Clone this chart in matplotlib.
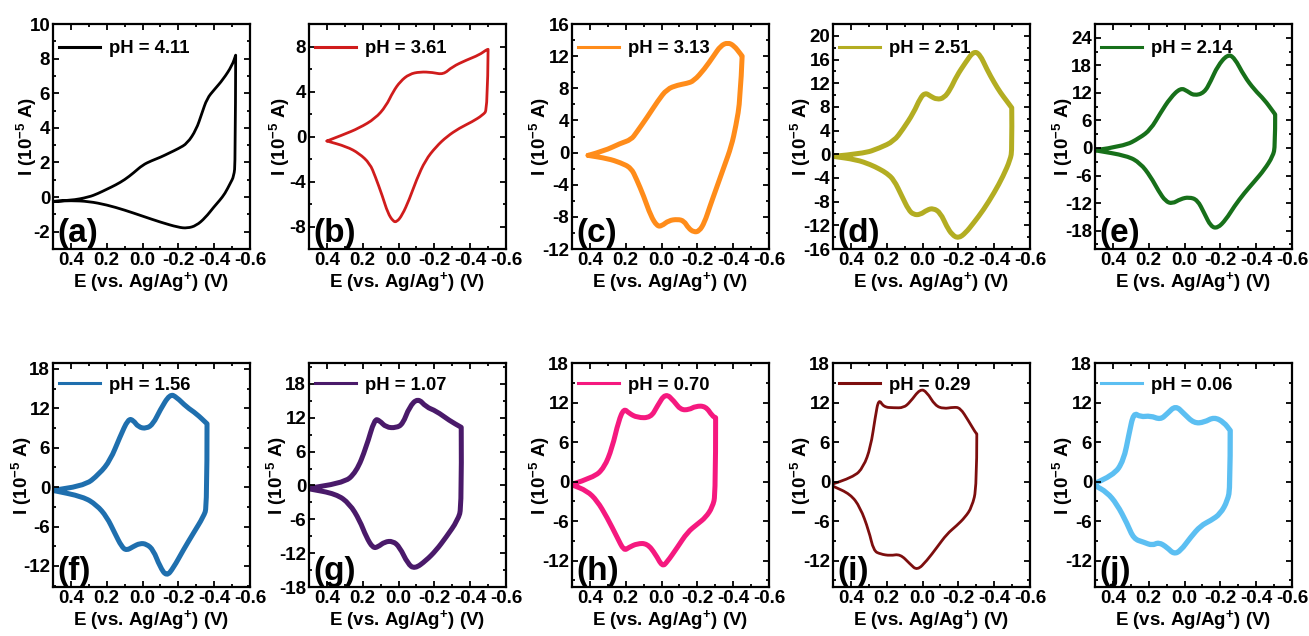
import matplotlib
matplotlib.use("Agg")
import matplotlib.pyplot as plt
from matplotlib.path import Path
from matplotlib.patches import PathPatch
from matplotlib.lines import Line2D
from matplotlib.ticker import AutoMinorLocator

plt.rcParams['font.family'] = ['Liberation Sans', 'DejaVu Sans']
plt.rcParams['font.weight'] = 'bold'
plt.rcParams['mathtext.fontset'] = 'custom'
plt.rcParams['mathtext.rm'] = 'Liberation Sans:bold'
plt.rcParams['mathtext.it'] = 'Liberation Sans:bold'
plt.rcParams['mathtext.bf'] = 'Liberation Sans:bold'
plt.rcParams['mathtext.default'] = 'rm'
plt.rcParams['axes.unicode_minus'] = False

# ---------------- data ----------------
panel_letters = ['a', 'b', 'c', 'd', 'e', 'f', 'g', 'h', 'i', 'j']
ph_values = ['4.11', '3.61', '3.13', '2.51', '2.14', '1.56', '1.07', '0.70', '0.29', '0.06']
colors = ['#000000', '#d01c1c', '#ff8c1a', '#b3ad22', '#17701a',
          '#1f6fae', '#4a1a6a', '#f5197f', '#7d0e0e', '#5cbff2']
line_widths = [2.0, 2.0, 3.6, 3.6, 3.0, 3.6, 3.6, 3.6, 2.0, 3.8]

# upper (anodic) branch and lower (cathodic) branch of each CV, E in V, I in 1e-5 A
a_up_E = [0.5, 0.4, 0.3, 0.25, 0.2, 0.15, 0.1, 0.05, 0.0, -0.05, -0.1, -0.15, -0.2, -0.25, -0.3, -0.33, -0.36, -0.4, -0.45, -0.5, -0.52]
a_up_I = [-0.25, -0.2, 0.0, 0.2, 0.45, 0.7, 1.0, 1.4, 1.85, 2.1, 2.3, 2.55, 2.8, 3.1, 3.9, 4.8, 5.7, 6.2, 6.8, 7.6, 8.2]
a_lo_E = [-0.52, -0.518, -0.51, -0.49, -0.46, -0.43, -0.4, -0.35, -0.3, -0.25, -0.2, -0.1, 0.0, 0.1, 0.2, 0.3, 0.4, 0.5]
a_lo_I = [8.2, 2.0, 1.2, 0.8, 0.2, -0.2, -0.55, -1.2, -1.65, -1.8, -1.75, -1.45, -1.1, -0.75, -0.45, -0.25, -0.2, -0.25]

b_up_E = [0.40, 0.31, 0.22, 0.13, 0.07, 0.03, -0.01, -0.06, -0.12, -0.19, -0.25, -0.30, -0.38, -0.45, -0.49, -0.50]
b_up_I = [-0.4, 0.15, 0.75, 1.6, 2.7, 4.0, 4.9, 5.55, 5.75, 5.7, 5.5, 6.2, 6.8, 7.25, 7.7, 7.75]
b_lo_E = [-0.50, -0.497, -0.47, -0.41, -0.34, -0.27, -0.21, -0.15, -0.10, -0.06, -0.02, 0.01, 0.03, 0.06, 0.09, 0.13, 0.16, 0.22, 0.29, 0.40]
b_lo_I = [7.75, 2.4, 1.9, 1.3, 0.75, 0.0, -0.9, -2.1, -3.85, -5.6, -7.0, -7.6, -7.55, -6.8, -5.3, -3.55, -2.4, -1.5, -0.9, -0.4]

c_up_E = [0.41, 0.32, 0.23, 0.17, 0.14, 0.08, 0.02, -0.03, -0.09, -0.14, -0.18, -0.24, -0.29, -0.33, -0.37, -0.405, -0.44, -0.45]
c_up_I = [-0.35, 0.2, 1.15, 1.6, 2.5, 4.4, 6.45, 7.9, 8.4, 8.6, 8.9, 10.4, 12.0, 13.3, 13.7, 13.3, 12.3, 12.0]
c_lo_E = [-0.45, -0.44, -0.415, -0.39, -0.35, -0.31, -0.27, -0.24, -0.21, -0.18, -0.15, -0.125, -0.09, -0.04, 0.0, 0.025, 0.06, 0.10, 0.14, 0.17, 0.23, 0.30, 0.41]
c_lo_I = [12.0, 6.6, 3.3, 0.8, -1.7, -4.2, -6.7, -8.7, -9.8, -9.9, -9.4, -8.5, -8.3, -8.45, -9.15, -9.15, -7.9, -5.4, -3.3, -1.9, -1.25, -0.75, -0.35]

d_up_E = [0.5, 0.33, 0.24, 0.16, 0.11, 0.05, 0.013, -0.015, -0.045, -0.08, -0.12, -0.155, -0.19, -0.24, -0.285, -0.32, -0.36, -0.40, -0.435, -0.47, -0.498]
d_up_I = [-0.35, 0.1, 1.05, 2.2, 4.2, 7.0, 9.5, 10.4, 9.8, 9.25, 9.5, 10.95, 13.2, 15.5, 17.4, 16.9, 14.3, 12.1, 10.4, 9.0, 7.85]
d_lo_E = [-0.498, -0.5, -0.49, -0.45, -0.40, -0.34, -0.285, -0.24, -0.2, -0.165, -0.135, -0.10, -0.06, -0.025, 0.013, 0.05, 0.078, 0.115, 0.16, 0.2, 0.24, 0.29, 0.37, 0.5]
d_lo_I = [7.85, 0.8, -0.9, -3.7, -6.5, -9.4, -11.6, -13.3, -14.2, -13.6, -12.2, -9.9, -9.1, -9.4, -10.2, -10.2, -9.4, -7.1, -4.3, -3.2, -2.5, -1.75, -0.9, -0.35]

e_up_E = [0.5, 0.34, 0.25, 0.19, 0.135, 0.08, 0.022, -0.015, -0.053, -0.11, -0.147, -0.184, -0.24, -0.278, -0.334, -0.39, -0.446, -0.493, -0.506]
e_up_I = [-0.5, 0.35, 2.2, 4.0, 7.6, 10.9, 13.1, 12.4, 11.4, 12.0, 14.6, 17.8, 20.4, 19.7, 15.6, 12.7, 10.5, 8.0, 7.3]
e_lo_E = [-0.506, -0.506, -0.493, -0.446, -0.39, -0.334, -0.278, -0.231, -0.184, -0.147, -0.11, -0.072, -0.025, 0.022, 0.069, 0.106, 0.144, 0.19, 0.247, 0.32, 0.5]
e_lo_I = [7.3, 0.35, -1.8, -4.7, -7.3, -9.8, -12.7, -15.6, -17.5, -17.1, -14.2, -11.3, -10.7, -11.1, -12.15, -11.6, -9.45, -6.2, -3.3, -1.7, -0.5]

f_up_E = [0.5, 0.33, 0.24, 0.18, 0.127, 0.08, 0.052, 0.024, -0.022, -0.06, -0.097, -0.153, -0.19, -0.246, -0.3, -0.36]
f_up_I = [-0.45, 0.05, 2.05, 4.1, 7.6, 10.4, 10.2, 9.15, 8.9, 9.65, 11.7, 14.2, 13.7, 12.2, 11.2, 9.65]
f_lo_E = [-0.36, -0.36, -0.34, -0.284, -0.228, -0.172, -0.134, -0.097, -0.06, -0.022, 0.015, 0.052, 0.09, 0.117, 0.155, 0.2, 0.257, 0.332, 0.5]
f_lo_I = [9.65, -3.0, -4.5, -7.0, -9.55, -12.3, -13.6, -12.1, -9.55, -8.65, -8.55, -9.05, -9.65, -9.05, -7.0, -4.5, -2.7, -1.45, -0.5]

g_up_E = [0.5, 0.31, 0.236, 0.18, 0.134, 0.106, 0.07, 0.013, -0.024, -0.06, -0.108, -0.154, -0.21, -0.284, -0.35]
g_up_I = [-0.47, 0.3, 2.35, 6.8, 11.8, 11.5, 10.3, 10.2, 10.9, 13.9, 15.5, 13.9, 13.2, 11.5, 10.3]
g_lo_E = [-0.35, -0.353, -0.33, -0.266, -0.21, -0.154, -0.09, -0.052, -0.006, 0.032, 0.078, 0.115, 0.143, 0.18, 0.217, 0.273, 0.348, 0.5]
g_lo_I = [10.3, -3.8, -6.2, -9.15, -11.5, -13.3, -14.8, -13.9, -10.9, -9.85, -10.0, -10.9, -11.1, -9.15, -6.2, -3.25, -1.5, -0.6]

h_up_E = [0.5, 0.38, 0.32, 0.276, 0.24, 0.21, 0.183, 0.136, 0.06, 0.024, -0.022, -0.07, -0.106, -0.153, -0.19, -0.246, -0.284, -0.302]
h_up_I = [-0.4, 0.6, 2.1, 5.1, 9.2, 11.1, 10.4, 9.7, 9.7, 11.45, 13.45, 12.2, 10.9, 10.9, 11.45, 11.45, 9.95, 9.7]
h_lo_E = [-0.302, -0.302, -0.284, -0.246, -0.2, -0.144, -0.088, -0.03, -0.004, 0.034, 0.08, 0.136, 0.183, 0.21, 0.248, 0.304, 0.36, 0.416, 0.5]
h_lo_I = [9.7, -1.9, -3.9, -5.45, -6.45, -7.7, -10.0, -12.25, -12.9, -11.0, -9.4, -9.4, -10.0, -10.5, -8.45, -5.45, -2.9, -1.4, -0.5]

i_up_E = [0.5, 0.385, 0.33, 0.29, 0.264, 0.245, 0.217, 0.16, 0.106, 0.07, 0.013, -0.024, -0.07, -0.117, -0.173, -0.21, -0.256, -0.294, -0.303]
i_up_I = [-0.35, 0.65, 2.2, 5.2, 9.8, 12.6, 11.3, 11.2, 11.2, 12.05, 14.1, 13.6, 11.55, 11.05, 11.3, 11.2, 9.25, 7.5, 7.25]
i_lo_E = [-0.303, -0.303, -0.275, -0.238, -0.19, -0.136, -0.08, -0.024, 0.03, 0.07, 0.125, 0.18, 0.236, 0.273, 0.3, 0.348, 0.403, 0.5]
i_lo_I = [7.25, -0.85, -3.9, -5.4, -6.7, -7.95, -10.0, -12.0, -13.5, -12.5, -11.0, -11.25, -11.0, -10.5, -7.45, -3.9, -1.9, -0.7]

j_up_E = [0.5, 0.397, 0.34, 0.31, 0.284, 0.247, 0.19, 0.135, 0.097, 0.05, 0.003, -0.053, -0.11, -0.165, -0.22, -0.255]
j_up_I = [-0.25, 0.9, 3.2, 7.25, 10.5, 9.8, 10.0, 9.4, 10.3, 11.55, 10.3, 8.85, 9.0, 9.8, 9.0, 7.75]
j_lo_E = [-0.255, -0.255, -0.24, -0.2, -0.147, -0.09, -0.034, 0.022, 0.06, 0.097, 0.144, 0.18, 0.228, 0.284, 0.32, 0.378, 0.434, 0.5]
j_lo_I = [7.75, -0.85, -2.9, -4.9, -5.9, -6.7, -8.45, -10.5, -11.0, -10.0, -9.2, -9.7, -9.2, -8.7, -6.4, -3.4, -1.6, -0.6]

curves = [
    (a_up_E, a_up_I, a_lo_E, a_lo_I), (b_up_E, b_up_I, b_lo_E, b_lo_I),
    (c_up_E, c_up_I, c_lo_E, c_lo_I), (d_up_E, d_up_I, d_lo_E, d_lo_I),
    (e_up_E, e_up_I, e_lo_E, e_lo_I), (f_up_E, f_up_I, f_lo_E, f_lo_I),
    (g_up_E, g_up_I, g_lo_E, g_lo_I), (h_up_E, h_up_I, h_lo_E, h_lo_I),
    (i_up_E, i_up_I, i_lo_E, i_lo_I), (j_up_E, j_up_I, j_lo_E, j_lo_I),
]

y_ticks = [
    [-2, 0, 2, 4, 6, 8, 10], [-8, -4, 0, 4, 8], [-12, -8, -4, 0, 4, 8, 12, 16],
    [-16, -12, -8, -4, 0, 4, 8, 12, 16, 20], [-18, -12, -6, 0, 6, 12, 18, 24],
    [-12, -6, 0, 6, 12, 18], [-18, -12, -6, 0, 6, 12, 18],
    [-12, -6, 0, 6, 12, 18], [-12, -6, 0, 6, 12, 18], [-12, -6, 0, 6, 12, 18],
]
y_limits = [(-3, 10), (-10, 10), (-12, 16), (-16, 22), (-22, 27),
            (-15.2, 18.9), (-18, 21.7), (-16, 18), (-16, 18), (-16, 18)]
x_ticks = [0.4, 0.2, 0.0, -0.2, -0.4, -0.6]
x_tick_labels = ['0.4', '0.2', '0.0', '-0.2', '-0.4', '-0.6']


def smooth_branch(xs, ys, first_code):
    """Quadratic B-spline style path through the measured points (drawing only)."""
    verts = [(xs[0], ys[0])]
    codes = [first_code]
    n = len(xs)
    for k in range(1, n - 1):
        verts.append((xs[k], ys[k]))
        verts.append(((xs[k] + xs[k + 1]) / 2, (ys[k] + ys[k + 1]) / 2))
        codes += [Path.CURVE3, Path.CURVE3]
    verts.append((xs[-1], ys[-1]))
    codes.append(Path.LINETO)
    return verts, codes


# ---------------- figure ----------------
W, H = 1309, 636
fig = plt.figure(figsize=(W / 100, H / 100), dpi=100)
lefts_px = [53, 309, 572, 833, 1095]
rows_px = [(24, 249), (363, 587)]
ax_w_px = 197
FS = 13.5
# centre of the rotated y label, in pixels left of the axis spine
ylabel_center_px = [-26.5, -29, -32, -32, -32, -31.5, -32, -32, -32, -32]
legend_y = [0.89, 0.90]

for k in range(10):
    r, c = divmod(k, 5)
    top, bot = rows_px[r]
    ax = fig.add_axes([lefts_px[c] / W, 1 - bot / H, ax_w_px / W, (bot - top) / H])
    upE, upI, loE, loI = curves[k]
    v1, c1 = smooth_branch(upE, upI, Path.MOVETO)
    v2, c2 = smooth_branch(loE, loI, Path.LINETO)
    patch = PathPatch(Path(v1 + v2, c1 + c2), facecolor='none', edgecolor=colors[k],
                      lw=line_widths[k], joinstyle='round', capstyle='round')
    ax.add_patch(patch)
    ax.set_xlim(0.5, -0.6)
    ax.set_ylim(*y_limits[k])
    ax.set_xticks(x_ticks)
    ax.set_xticklabels(x_tick_labels)
    ax.set_yticks(y_ticks[k])
    ax.set_yticklabels([str(t) for t in y_ticks[k]])
    ax.xaxis.set_minor_locator(AutoMinorLocator(2))
    ax.yaxis.set_minor_locator(AutoMinorLocator(2))
    ax.tick_params(which='both', direction='in', top=True, right=True, width=1.3)
    ax.tick_params(which='major', length=4.5, labelsize=FS, pad=2)
    ax.tick_params(which='minor', length=2.5)
    for lab in ax.get_xticklabels() + ax.get_yticklabels():
        lab.set_fontweight('bold')
    for s in ax.spines.values():
        s.set_linewidth(1.6)
    ax.set_xlabel('E (vs. Ag/Ag$^{+}$) (V)', fontsize=FS, fontweight='bold', labelpad=1)
    ax.set_ylabel('I (10$^{-5}$ A)', fontsize=FS, fontweight='bold',
                  va='center', ha='center', rotation_mode='anchor')
    ax.yaxis.set_label_coords(ylabel_center_px[k] / ax_w_px, 0.5)
    handle = Line2D([], [], color=colors[k], lw=2.2)
    leg = ax.legend([handle], ['pH = ' + ph_values[k]], loc='center left',
                    bbox_to_anchor=(0.03, legend_y[r]), frameon=False,
                    fontsize=13.3, handlelength=2.2, handletextpad=0.5,
                    borderaxespad=0.0, borderpad=0.0)
    for t in leg.get_texts():
        t.set_fontweight('bold')
    ax.text(0.02, 0.0, '(' + panel_letters[k] + ')', transform=ax.transAxes,
            fontsize=24, fontweight='bold', ha='left', va='bottom')

fig.savefig('out.png', dpi=100)
